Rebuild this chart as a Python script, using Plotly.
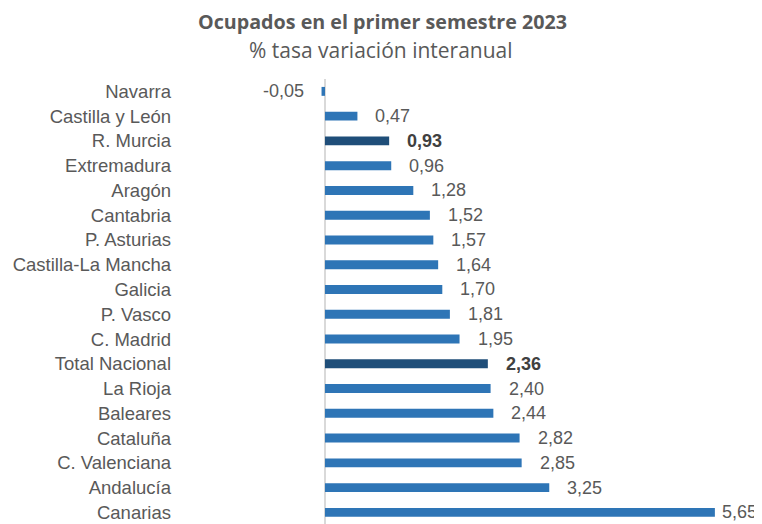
import plotly.graph_objects as go

regions = ["Navarra", "Castilla y León", "R. Murcia", "Extremadura", "Aragón", "Cantabria",
           "P. Asturias", "Castilla-La Mancha", "Galicia", "P. Vasco", "C. Madrid",
           "Total Nacional", "La Rioja", "Baleares", "Cataluña", "C. Valenciana",
           "Andalucía", "Canarias"]
values = [-0.05, 0.47, 0.93, 0.96, 1.28, 1.52, 1.57, 1.64, 1.70, 1.81, 1.95,
          2.36, 2.40, 2.44, 2.82, 2.85, 3.25, 5.65]
highlight = ["R. Murcia", "Total Nacional"]

title_text = "Ocupados en el primer semestre 2023"
subtitle_text = "% tasa variación interanual"

BLUE = "#2E75B6"
DARK = "#1F4E79"
GREY = "#595959"
FONT = "Liberation Sans, Arial, sans-serif"

# page has an 8px body margin, so the figure is laid out 8px smaller
W, H = 754, 516
L, R, T, B = 172, 12, 71, 0
PW, PH = W - L - R, H - T - B

colors = [DARK if r in highlight else BLUE for r in regions]
vmax = max(values)

fig = go.Figure()
fig.add_trace(go.Bar(
    x=values, y=regions, orientation="h",
    marker=dict(color=colors, line=dict(width=0)),
    width=0.36, hoverinfo="skip",
))

for r, v in zip(regions, values):
    txt = f"{v:.2f}".replace(".", ",")
    bold = r in highlight
    if v < 0:
        shift = -16
    elif v == vmax:
        shift = 5
    else:
        shift = 16
    fig.add_annotation(
        x=v, y=r, xref="x", yref="y",
        text=f"<b>{txt}</b>" if bold else txt,
        showarrow=False,
        xanchor="right" if v < 0 else "left",
        xshift=shift,
        font=dict(family=FONT, size=18, color="#404040" if bold else GREY),
    )

fig.add_annotation(
    text=f"<b>{title_text}</b>", xref="paper", yref="paper",
    x=(374 - L) / PW, y=(H - 14) / PH, xanchor="center", yanchor="middle",
    showarrow=False, font=dict(family="Open Sans, sans-serif", size=19.7, color=GREY),
)
fig.add_annotation(
    text=subtitle_text, xref="paper", yref="paper",
    x=(373 - L) / PW, y=(H - 42) / PH, xanchor="center", yanchor="middle",
    showarrow=False, font=dict(family="Open Sans, sans-serif", size=21, color=GREY),
)

fig.update_layout(
    width=W, height=H,
    margin=dict(l=L, r=R, t=T, b=B, pad=0),
    paper_bgcolor="white", plot_bgcolor="white",
    showlegend=False,
    font=dict(family=FONT, color=GREY),
    xaxis=dict(range=[-2.101, 6.159], showgrid=False, showticklabels=False,
               zeroline=True, zerolinecolor="#D9D9D9", zerolinewidth=2,
               ticks="", showline=False, fixedrange=True, automargin=False),
    yaxis=dict(categoryorder="array", categoryarray=regions,
               range=[17.47, -0.5], showgrid=False, ticks="",
               tickfont=dict(family=FONT, size=18.5, color=GREY),
               ticklabelstandoff=8, showline=False, fixedrange=True,
               automargin=False),
)

fig.write_html("out.html")
